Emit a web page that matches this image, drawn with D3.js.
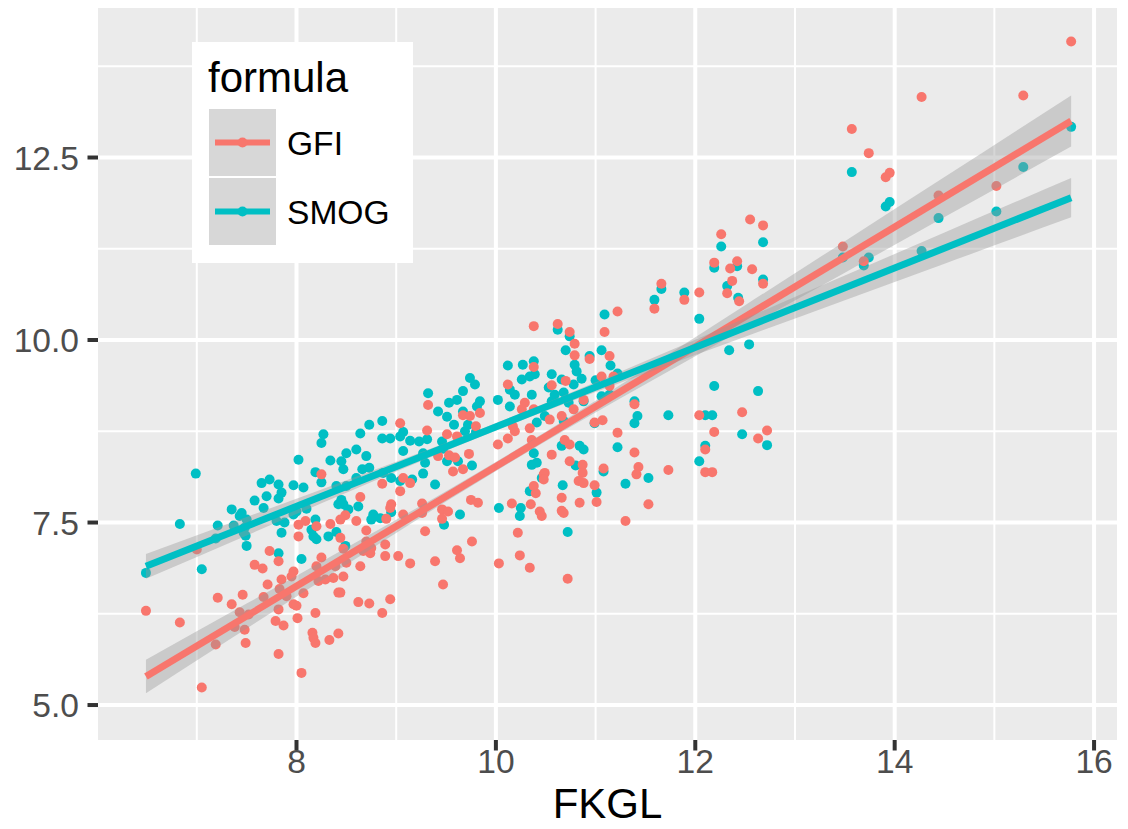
<!DOCTYPE html>
<html><head><meta charset="utf-8">
<script src="https://cdn.jsdelivr.net/npm/d3@7"></script>
<style>body{margin:0;background:#fff}svg{display:block}text{font-family:"Liberation Sans",Arial,Helvetica,sans-serif}</style>
</head><body><svg id="c" width="1128" height="829"></svg>
<script>
// ---------- data ----------
const seriesNames = ["GFI", "SMOG"];
const seriesColors = ["#F8766D", "#00BFC4"];
const xTicks = [8, 10, 12, 14, 16];
const xMinor = [7, 9, 11, 13, 15];
const yTicks = [5.0, 7.5, 10.0, 12.5];
const yTickLabels = ["5.0", "7.5", "10.0", "12.5"];
const yMinor = [6.25, 8.75, 11.25, 13.75];
const xTitle = "FKGL";
const legendTitle = "formula";

// [FKGL, SMOG]
const smogPoints = [
[8.27,8.71],[8.25,8.59],[8.02,8.36],[8.34,8.35],[6.99,8.17],[8.19,8.19],[8.25,8.05],[7.65,8.04],[7.73,8.09],[7.82,8.02],[7.97,8.01],[8.07,7.98],[7.85,7.91],[7.70,7.86],[7.82,7.83],[7.58,7.80],[7.67,7.70],[7.35,7.68],[7.45,7.63],[7.43,7.59],[7.50,7.54],[6.83,7.48],[7.21,7.46],[7.37,7.46],[7.48,7.43],[7.47,7.36],[7.49,7.32],[7.19,7.28],[7.50,7.18],[7.80,7.52],[7.88,7.50],[7.85,7.36],[7.97,7.61],[8.00,7.65],[8.10,7.69],[8.19,7.54],[8.15,7.40],[8.17,7.31],[8.20,7.27],[8.32,7.31],[8.42,7.75],[7.82,7.08],[8.05,7.00],[7.05,6.86],[6.49,6.81],
[10.12,9.65],[10.27,9.66],[10.38,9.71],[9.74,9.48],[9.79,9.39],[9.67,9.30],[9.32,9.27],[10.02,9.18],[10.14,9.32],[10.19,9.25],[10.26,9.46],[10.34,9.50],[10.36,9.25],[10.14,9.09],[9.84,9.16],[9.81,9.09],[9.61,9.18],[9.53,9.14],[9.42,9.02],[9.51,8.95],[9.67,9.02],[9.58,8.84],[9.72,8.84],[9.80,8.74],[9.69,8.75],[8.73,8.84],[8.86,8.89],[8.64,8.72],[8.86,8.65],[8.94,8.65],[9.07,8.74],[9.04,8.68],[9.14,8.62],[9.23,8.61],[9.31,8.64],[9.07,8.48],[9.27,8.45],[9.46,8.61],[9.47,8.51],[9.51,8.34],[9.62,8.34],[9.76,8.28],[9.29,8.32],[9.27,8.17],[9.39,8.02],[8.50,8.45],[8.60,8.50],[8.45,8.34],[8.70,8.41],[8.66,8.23],[8.73,8.25],[8.47,8.23],[8.87,8.18],[8.95,8.11],[9.04,8.07],[9.16,8.09],[8.60,8.11],[8.50,8.00],[8.40,8.00],[8.45,7.81],[8.47,7.75],[8.62,7.72],[8.52,7.68],[8.77,7.61],[8.84,7.56],[8.75,7.54],[8.95,7.64],[9.64,7.61],[9.48,7.47],[8.40,7.37],[8.49,7.18],[10.03,7.70],[10.25,7.70],[10.24,7.59],[10.38,8.45],[10.36,8.29],[10.34,7.93],
[12.26,11.28],[12.68,11.34],[12.19,10.99],[12.42,11.01],[12.32,10.74],[12.68,10.83],[12.43,10.58],[11.66,10.70],[11.89,10.65],[11.59,10.55],[12.04,10.29],[11.09,10.35],[10.62,10.14],[10.74,10.05],[10.70,9.86],[10.94,9.78],[11.06,9.86],[10.39,9.53],[10.79,9.66],[10.81,9.57],[10.86,9.47],[10.56,9.53],[10.66,9.46],[10.78,9.39],[10.53,9.35],[10.59,9.25],[10.68,9.28],[10.56,9.16],[10.73,9.14],[10.88,9.16],[11.00,9.45],[11.15,9.65],[11.22,9.54],[11.06,9.23],[11.14,9.25],[12.34,9.86],[12.54,9.94],[12.19,9.37],[12.63,9.30],[11.39,9.16],[11.42,8.96],[11.39,8.86],[11.73,8.97],[12.10,8.97],[12.17,8.97],[10.99,8.86],[10.49,8.96],[10.41,8.87],[10.68,8.89],[12.47,8.71],[12.72,8.56],[12.10,8.55],[12.04,8.34],[11.22,8.53],[10.66,8.55],[10.84,8.55],[10.88,8.50],[10.41,8.32],[10.80,8.28],[11.53,8.11],[11.08,8.20],
[10.67,8.01],[11.01,7.91],[11.30,8.03],[10.72,7.37],[10.46,8.11],
[15.77,12.92],[13.57,12.30],[15.29,12.37],[13.95,11.89],[13.91,11.83],[15.02,11.76],[14.44,11.67],[14.27,11.22],[13.48,11.13],[13.69,11.02],[13.74,11.13]
];

// [FKGL, GFI]
const gfiPoints = [
[8.25,8.16],[8.02,7.47],[8.09,7.52],[8.20,7.45],[8.34,7.48],[8.02,7.31],[7.73,7.11],[7.82,6.97],[7.58,6.92],[7.66,6.87],[8.25,7.02],[8.20,6.90],[8.39,6.90],[7.97,6.83],[7.85,6.72],[7.95,6.76],[8.22,6.70],[8.29,6.72],[8.37,6.74],[7.71,6.65],[7.83,6.59],[7.90,6.49],[8.07,6.53],[8.42,6.54],[7.21,6.47],[7.46,6.51],[7.35,6.38],[7.67,6.48],[7.43,6.27],[7.52,6.24],[7.97,6.38],[8.00,6.36],[7.82,6.31],[8.19,6.26],[8.01,6.19],[7.79,6.15],[7.87,6.09],[6.83,6.13],[6.49,6.29],[7.38,6.07],[7.48,6.03],[8.16,5.99],[8.17,5.92],[8.19,5.85],[8.33,5.89],[8.42,5.98],[7.19,5.83],[7.49,5.85],[7.82,5.70],[8.05,5.44],[7.05,5.24],[7.00,7.13],
[10.38,9.63],[10.12,9.39],[9.32,9.11],[10.29,9.14],[10.26,9.05],[10.38,9.05],[9.67,8.97],[9.74,8.96],[9.84,9.00],[9.80,8.82],[9.04,8.86],[9.31,8.76],[9.51,8.71],[9.61,8.68],[10.12,8.65],[10.17,8.82],[10.19,8.75],[10.34,8.79],[10.02,8.57],[10.36,8.63],[9.42,8.41],[9.53,8.42],[9.59,8.39],[9.73,8.44],[9.57,8.20],[9.67,8.23],[9.07,8.11],[9.14,8.04],[8.86,8.03],[9.04,7.93],[8.64,7.85],[8.95,7.75],[8.94,7.70],[9.26,7.76],[9.26,7.63],[9.07,7.61],[8.90,7.55],[9.46,7.68],[9.52,7.65],[9.46,7.55],[9.75,7.81],[9.82,7.77],[10.16,7.76],[10.35,7.75],[10.38,8.00],[10.22,7.36],[8.60,7.52],[8.49,7.60],[8.44,7.54],[8.70,7.39],[9.29,7.38],[9.76,7.24],[8.44,7.29],[8.70,7.24],[8.47,7.14],[8.75,7.15],[8.74,7.08],[8.89,7.20],[8.67,7.11],[8.89,7.04],[9.02,7.04],[9.14,6.94],[9.39,6.97],[9.61,7.12],[9.64,7.01],[10.03,6.94],[10.24,7.05],[10.34,6.88],[8.50,6.95],[8.64,6.90],[8.47,6.76],
[8.44,6.54],[8.62,6.41],[8.73,6.39],[8.94,6.45],[8.86,6.26],[9.47,6.65],
[12.55,11.65],[12.68,11.57],[12.26,11.45],[12.19,11.06],[12.35,10.98],[12.42,11.08],[12.57,10.97],[12.37,10.81],[12.32,10.64],[12.44,10.53],[12.68,10.77],[11.66,10.77],[12.04,10.65],[11.89,10.55],[11.59,10.43],[11.22,10.39],[10.38,10.19],[10.62,10.22],[10.74,10.11],[10.79,9.95],[11.09,10.11],[10.79,9.79],[11.14,9.78],[10.94,9.74],[10.56,9.38],[10.70,9.44],[10.88,9.18],[10.78,9.05],[11.06,9.50],[11.14,9.37],[11.18,9.50],[11.39,9.12],[10.99,8.87],[11.07,8.90],[10.54,8.91],[10.66,8.96],[11.22,8.73],[12.04,8.97],[12.19,8.74],[12.47,9.01],[12.72,8.76],[12.63,8.65],[10.69,8.63],[10.74,8.57],[10.56,8.43],[10.74,8.34],[10.87,8.29],[10.87,8.18],[11.08,8.24],[11.39,8.46],[11.43,8.26],[11.41,8.16],[11.73,8.22],[12.10,8.50],[12.10,8.19],[12.17,8.19],[10.48,8.16],
[10.40,7.90],[10.49,8.18],[10.48,8.09],[10.44,7.65],[10.46,7.59],[10.66,7.84],[10.66,7.66],[10.68,7.63],[10.83,8.07],[10.88,8.04],[10.84,7.77],[10.99,8.01],[11.01,7.78],[11.53,7.75],[11.30,7.52],[10.72,6.73],
[15.77,14.09],[14.27,13.33],[15.29,13.35],[13.57,12.89],[13.74,12.56],[13.95,12.29],[13.91,12.23],[15.02,12.11],[14.44,11.98],[13.48,11.28],[13.69,11.08]
];

// fitted smooth lines (read at the ends of the FKGL range)
const fitRange = [6.49, 15.77];
const gfiFitEnds = [5.39, 13.00];
const smogFitEnds = [6.90, 11.95];
// confidence band half-widths read at these FKGL values
const bandX = [6.49, 7.5, 8.5, 9.5, 10.5, 11.5, 12.5, 13.5, 14.5, 15.77];
const gfiBandHalf = [0.23, 0.171, 0.116, 0.071, 0.064, 0.104, 0.158, 0.216, 0.275, 0.35];
const smogBandHalf = [0.17, 0.126, 0.086, 0.055, 0.055, 0.085, 0.126, 0.169, 0.214, 0.27];

// ---------- drawing ----------
const svg = d3.select("#c");
const P = {l: 98, r: 1117, t: 8, b: 740};
const x = d3.scaleLinear().domain([6.009, 16.23]).range([P.l, P.r]);
const y = d3.scaleLinear().domain([4.521, 14.548]).range([P.b, P.t]);

svg.append("rect").attr("width", 1128).attr("height", 829).attr("fill", "#fff");
svg.append("rect").attr("x", P.l).attr("y", P.t).attr("width", P.r - P.l).attr("height", P.b - P.t).attr("fill", "#EBEBEB");

const grid = svg.append("g");
grid.selectAll(".xm").data(xMinor).join("line")
  .attr("x1", d => x(d)).attr("x2", d => x(d)).attr("y1", P.t).attr("y2", P.b)
  .attr("stroke", "#fff").attr("stroke-width", 2);
grid.selectAll(".ym").data(yMinor).join("line").attr("class", "ym")
  .attr("y1", d => y(d)).attr("y2", d => y(d)).attr("x1", P.l).attr("x2", P.r)
  .attr("stroke", "#fff").attr("stroke-width", 2);
grid.selectAll(".xM").data(xTicks).join("line").attr("class", "xM")
  .attr("x1", d => x(d)).attr("x2", d => x(d)).attr("y1", P.t).attr("y2", P.b)
  .attr("stroke", "#fff").attr("stroke-width", 4);
grid.selectAll(".yM").data(yTicks).join("line").attr("class", "yM")
  .attr("y1", d => y(d)).attr("y2", d => y(d)).attr("x1", P.l).attr("x2", P.r)
  .attr("stroke", "#fff").attr("stroke-width", 4);

const clip = svg.append("clipPath").attr("id", "pc").append("rect")
  .attr("x", P.l).attr("y", P.t).attr("width", P.r - P.l).attr("height", P.b - P.t);
const plot = svg.append("g").attr("clip-path", "url(#pc)");

const R = 5;
plot.append("g").selectAll("circle").data(smogPoints).join("circle")
  .attr("cx", d => x(d[0])).attr("cy", d => y(d[1])).attr("r", R).attr("fill", seriesColors[1]);
plot.append("g").selectAll("circle").data(gfiPoints).join("circle")
  .attr("cx", d => x(d[0])).attr("cy", d => y(d[1])).attr("r", R).attr("fill", seriesColors[0]);

function drawSmooth(ends, half, color) {
  const fit = d3.scaleLinear().domain(fitRange).range(ends);
  const band = bandX.map((v, i) => ({x: v, lo: fit(v) - half[i], hi: fit(v) + half[i]}));
  plot.append("path").datum(band)
    .attr("d", d3.area().x(d => x(d.x)).y0(d => y(d.lo)).y1(d => y(d.hi)).curve(d3.curveMonotoneX))
    .attr("fill", "#999999").attr("fill-opacity", 0.4);
  plot.append("path").datum(fitRange)
    .attr("d", d3.line().x(d => x(d)).y(d => y(fit(d))))
    .attr("stroke", color).attr("stroke-width", 7).attr("fill", "none");
}
drawSmooth(gfiFitEnds, gfiBandHalf, seriesColors[0]);
drawSmooth(smogFitEnds, smogBandHalf, seriesColors[1]);

// axes
const axG = svg.append("g");
axG.selectAll(".yt").data(yTicks).join("line")
  .attr("x1", P.l - 10.5).attr("x2", P.l).attr("y1", d => y(d)).attr("y2", d => y(d))
  .attr("stroke", "#333333").attr("stroke-width", 4);
axG.selectAll(".ytl").data(yTicks).join("text")
  .attr("x", P.l - 19).attr("y", d => y(d)).attr("dy", "0.36em")
  .attr("text-anchor", "end").attr("font-size", 33.6).attr("fill", "#4D4D4D")
  .text((d, i) => yTickLabels[i]);
axG.selectAll(".xt").data(xTicks).join("line").attr("class", "xt")
  .attr("x1", d => x(d)).attr("x2", d => x(d)).attr("y1", P.b).attr("y2", P.b + 10.5)
  .attr("stroke", "#333333").attr("stroke-width", 4);
axG.selectAll(".xtl").data(xTicks).join("text").attr("class", "xtl")
  .attr("x", d => x(d)).attr("y", 773)
  .attr("text-anchor", "middle").attr("font-size", 33.6).attr("fill", "#4D4D4D")
  .text(d => d);
svg.append("text").attr("x", (P.l + P.r) / 2).attr("y", 818)
  .attr("text-anchor", "middle").attr("font-size", 42).attr("fill", "#000").text(xTitle);

// legend
const lg = svg.append("g");
lg.append("rect").attr("x", 192).attr("y", 42).attr("width", 221).attr("height", 221).attr("fill", "#fff");
lg.append("text").attr("x", 208).attr("y", 92).attr("font-size", 42).attr("fill", "#000").text(legendTitle);
const keyW = 69, keyH = 69, keyX = 208, keyY0 = 108;
seriesNames.forEach((name, i) => {
  const ky = keyY0 + i * keyH;
  lg.append("rect").attr("x", keyX).attr("y", ky).attr("width", keyW).attr("height", keyH)
    .attr("fill", "#F2F2F2").attr("stroke", "#fff").attr("stroke-width", 2);
  lg.append("rect").attr("x", keyX + 1).attr("y", ky + 1).attr("width", keyW - 2).attr("height", keyH - 2)
    .attr("fill", "#999999").attr("fill-opacity", 0.3);
  const cy = ky + keyH / 2;
  lg.append("line").attr("x1", keyX + 7).attr("x2", keyX + keyW - 7).attr("y1", cy).attr("y2", cy)
    .attr("stroke", seriesColors[i]).attr("stroke-width", 6);
  lg.append("circle").attr("cx", keyX + keyW / 2).attr("cy", cy).attr("r", R).attr("fill", seriesColors[i]);
  lg.append("text").attr("x", 287).attr("y", cy).attr("dy", "0.36em")
    .attr("font-size", 33.6).attr("fill", "#000").text(name);
});
</script></body></html>
